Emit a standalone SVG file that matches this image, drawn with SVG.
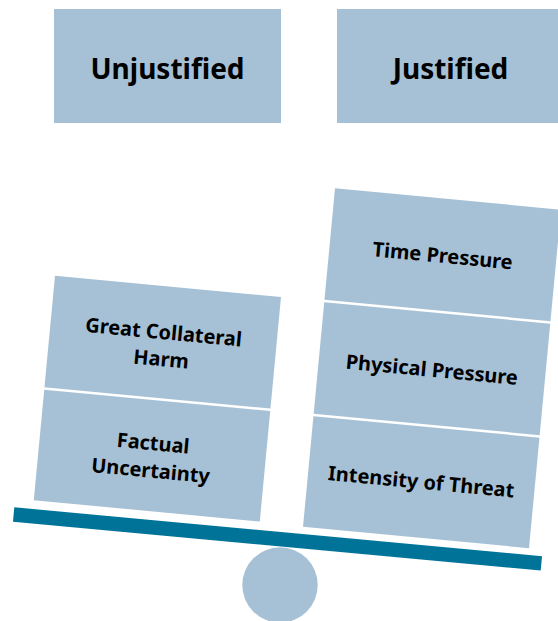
<svg xmlns="http://www.w3.org/2000/svg" width="558" height="621" viewBox="0 0 558 621">
<style>
.box{fill:#A6C1D5}
.bar{fill:#007498}
.t{font-family:"Noto Sans","DejaVu Sans",sans-serif;font-weight:bold;fill:#000;text-anchor:middle}
.h{font-size:28px}
.l{font-size:20px}
</style>
<rect width="558" height="621" fill="#fff"/>
<g id="header-unjustified">
<rect class="box" x="54" y="9" width="227" height="114"/>
<text class="t h" x="167.5" y="79">Unjustified</text>
</g>
<g id="header-justified">
<rect class="box" x="337" y="9" width="227" height="114"/>
<text class="t h" x="450.5" y="79">Justified</text>
</g>
<g id="fulcrum">
<circle class="box" cx="280" cy="585" r="37.7"/>
</g>
<g id="beam">
<rect class="bar" x="0" y="0" width="530" height="14.4" transform="translate(14.3,507.3) rotate(5.3)"/>
</g>
<g transform="translate(55,275.7) rotate(5.4)">
<g id="great-collateral-harm">
<rect class="box" x="0" y="0" width="227" height="112"/>
<text class="t l" x="113.5" y="53">Great Collateral</text>
<text class="t l" x="113.5" y="80">Harm</text>
</g>
<g id="factual-uncertainty">
<rect class="box" x="0" y="114.5" width="227" height="111"/>
<text class="t l" x="113.5" y="164.5">Factual</text>
<text class="t l" x="113.5" y="192">Uncertainty</text>
</g>
</g>
<g transform="translate(335,188.3) rotate(5.4)">
<g id="time-pressure">
<rect class="box" x="0" y="0" width="227" height="112"/>
<text class="t l" x="113.5" y="64">Time Pressure</text>
</g>
<g id="physical-pressure">
<rect class="box" x="0" y="114.5" width="227" height="112"/>
<text class="t l" x="113.5" y="178.5">Physical Pressure</text>
</g>
<g id="intensity-of-threat">
<rect class="box" x="0" y="229" width="227" height="111"/>
<text class="t l" x="113.5" y="291">Intensity of Threat</text>
</g>
</g>
<g id="connectors"/>
</svg>
